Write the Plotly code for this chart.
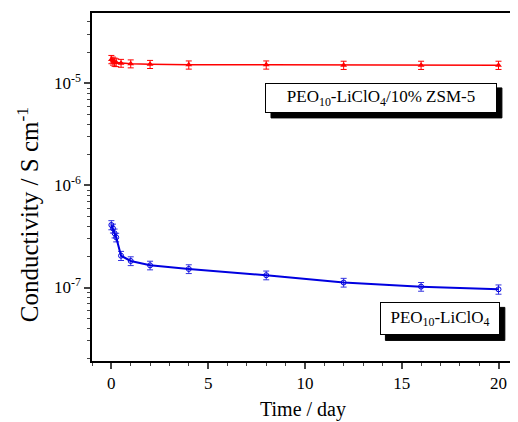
import plotly.graph_objects as go

# ---- data ----
time_zsm = [0, 0.083, 0.167, 0.25, 0.5, 1, 2, 4, 8, 12, 16, 20]
cond_zsm = [1.72e-5, 1.66e-5, 1.62e-5, 1.60e-5, 1.58e-5, 1.56e-5, 1.54e-5, 1.52e-5, 1.52e-5, 1.51e-5, 1.51e-5, 1.51e-5]
err_zsm = [1.6e-6, 1.5e-6, 1.5e-6, 1.4e-6, 1.4e-6, 1.4e-6, 1.4e-6, 1.4e-6, 1.4e-6, 1.4e-6, 1.4e-6, 1.4e-6]

time_peo = [0, 0.083, 0.167, 0.25, 0.5, 1, 2, 4, 8, 12, 16, 20]
cond_peo = [4.1e-7, 3.8e-7, 3.4e-7, 3.1e-7, 2.05e-7, 1.82e-7, 1.65e-7, 1.52e-7, 1.32e-7, 1.12e-7, 1.02e-7, 9.6e-8]
err_peo = [4.2e-8, 3.8e-8, 3.4e-8, 3.0e-8, 2.1e-8, 1.8e-8, 1.6e-8, 1.5e-8, 1.3e-8, 1.1e-8, 1.0e-8, 1.0e-8]

y_tickvals = [1e-7, 1e-6, 1e-5]
y_ticktext = ["10<sup>-7</sup>", "10<sup>-6</sup>", "10<sup>-5</sup>"]
x_tickvals = [0, 5, 10, 15, 20]

label_zsm = "PEO<sub>10</sub>-LiClO<sub>4</sub>/10% ZSM-5"
label_peo = "PEO<sub>10</sub>-LiClO<sub>4</sub>"
y_title = "Conductivity / S cm<sup>-1</sup>"
x_title = "Time / day"

FONT = "Liberation Serif"
PLOT_W, PLOT_H = 424, 348  # plot-area size in px (for converting box sizes to paper units)

fig = go.Figure()
fig.add_trace(go.Scatter(
    x=time_zsm, y=cond_zsm, mode="lines+markers",
    line=dict(color="#ff0000", width=1.5),
    marker=dict(symbol="triangle-up", size=6, color="#ff0000"),
    error_y=dict(type="data", array=err_zsm, color="#ff0000", thickness=1, width=3),
    showlegend=False))
fig.add_trace(go.Scatter(
    x=time_peo, y=cond_peo, mode="lines+markers",
    line=dict(color="#0000e0", width=2),
    marker=dict(symbol="circle-open", size=5, color="#0000e0", line=dict(width=1)),
    error_y=dict(type="data", array=err_peo, color="#3333e0", thickness=1, width=3),
    showlegend=False))

minor_y = [m * 10.0 ** e for e in (-8, -7, -6, -5) for m in range(2, 10)]

fig.update_xaxes(
    range=[-1, 20.8], tickvals=x_tickvals, ticks="outside", ticklen=6, tickwidth=1.5,
    minor=dict(dtick=1, ticks="outside", ticklen=3, tickwidth=1.2, tick0=0),
    showline=True, linecolor="black", linewidth=1.5, mirror=True, showgrid=False, zeroline=False,
    tickfont=dict(family=FONT, size=17, color="black"),
    title=dict(text=x_title, font=dict(family=FONT, size=20, color="black"), standoff=10))
fig.update_yaxes(
    type="log", range=[-7.72, -4.31], tickvals=y_tickvals, ticktext=y_ticktext,
    ticks="outside", ticklen=6, tickwidth=1.5,
    minor=dict(tickvals=minor_y, ticks="outside", ticklen=3, tickwidth=1.2),
    showline=True, linecolor="black", linewidth=1.5, mirror=True, showgrid=False, zeroline=False,
    tickfont=dict(family=FONT, size=17, color="black"))

# y-axis title as a rotated annotation (it sits below the axis centre in the reference)
fig.add_annotation(text=y_title, xref="paper", yref="paper", x=-0.153, y=0.42,
                   xanchor="center", yanchor="middle", textangle=-90, showarrow=False,
                   font=dict(family=FONT, size=25, color="black"))

PAD, BW, SH = 2, 1, 5
for text, x, y, w, h in [(label_zsm, 0.686, 0.756, 226, 24), (label_peo, 0.825, 0.121, 114, 27)]:
    bw = (w + 2 * PAD + 2 * BW) / PLOT_W
    bh = (h + 2 * PAD + 2 * BW) / PLOT_H
    dx, dy = SH / PLOT_W, SH / PLOT_H
    fig.add_shape(type="rect", xref="paper", yref="paper",
                  x0=x - bw / 2 + dx, x1=x + bw / 2 + dx, y0=y - bh / 2 - dy, y1=y + bh / 2 - dy,
                  fillcolor="black", opacity=1, line=dict(color="black", width=1), layer="above")
    fig.add_annotation(text=text, xref="paper", yref="paper", x=x, y=y, showarrow=False,
                       xanchor="center", yanchor="middle",
                       width=w, height=h, bgcolor="white", bordercolor="black",
                       borderwidth=BW, borderpad=PAD, font=dict(family=FONT, size=17, color="black"))

# the page body has an 8px margin, so the figure is sized to fit the window
fig.update_layout(
    width=510, height=414, margin=dict(l=84, r=2, t=5, b=61),
    paper_bgcolor="white", plot_bgcolor="white")

fig.write_html("out.html")
